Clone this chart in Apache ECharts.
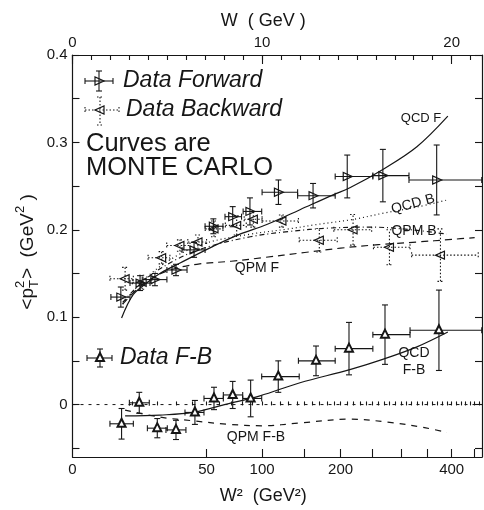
<!DOCTYPE html>
<html>
<head>
<meta charset="utf-8">
<script src="https://cdn.jsdelivr.net/npm/echarts@6/dist/echarts.min.js"></script>
<style>
  html, body { margin: 0; padding: 0; background: #fff; }
  #chart { width: 484px; height: 510px; }
</style>
</head>
<body>
<div id="chart"></div>
<script>
// values: x = W^2 (GeV^2), y = <pT^2> (GeV^2)
const fwdW2   = [6.5, 12.7, 18.9, 29.8, 41.1, 55.2, 71.4, 87.6, 118, 161, 210, 268, 369]
const fwdVal  = [0.123, 0.139, 0.143, 0.154, 0.177, 0.204, 0.215, 0.221, 0.243, 0.239, 0.261, 0.262, 0.257]
const fwdW2Lo = [4.1, 9.2, 13.8, 24.8, 33.4, 48.9, 64.7, 81, 100, 141, 192, 251, 315]
const fwdW2Hi = [9.2, 16.7, 24.8, 36.5, 48.9, 63, 79.5, 99.6, 141, 192, 251, 315, 466]
const fwdErr  = [0.0115, 0.0085, 0.007, 0.0065, 0.0085, 0.0085, 0.0115, 0.0155, 0.014, 0.014, 0.0245, 0.030, 0.040]

const bwdW2   = [7.7, 13.5, 22.1, 32.1, 43.8, 55.7, 75, 91, 122, 169.5, 219, 279.5, 376.7]
const bwdVal  = [0.144, 0.140, 0.168, 0.182, 0.186, 0.201, 0.205, 0.212, 0.210, 0.188, 0.200, 0.180, 0.171]
const bwdW2Lo = [3.9, 10, 15.9, 24.7, 37, 49, 65, 82, 100, 143, 190, 252, 320]
const bwdW2Hi = [10.3, 17.5, 26.4, 38.4, 50, 63, 84, 100, 142, 195, 249, 317, 458]
const bwdErr  = [0.013, 0.008, 0.007, 0.0065, 0.008, 0.009, 0.011, 0.009, 0.007, 0.0135, 0.0175, 0.020, 0.030]

const fbW2    = [6.7, 12.4, 20, 29.8, 41.7, 55.7, 71.4, 88.3, 117.8, 165, 212.7, 271.7, 373.6]
const fbVal   = [-0.022, 0.002, -0.027, -0.029, -0.009, 0.007, 0.011, 0.007, 0.032, 0.050, 0.064, 0.080, 0.085]
const fbW2Lo  = [3.9, 9.0, 15.6, 24.3, 35.2, 48.1, 63.3, 80.6, 99.6, 142, 192, 251, 317]
const fbW2Hi  = [10.3, 16.4, 25, 35.8, 48.1, 63.3, 80.6, 99.6, 143, 192, 251, 317, 466]
const fbErr   = [0.0175, 0.012, 0.011, 0.011, 0.0137, 0.0128, 0.0155, 0.021, 0.018, 0.017, 0.030, 0.034, 0.046]

// Monte Carlo curves
const qcdFW2  = [6.7, 10.3, 15.3, 22, 32.2, 55, 78, 105, 144, 189, 214, 268, 330, 392]
const qcdFVal = [0.099, 0.126, 0.139, 0.151, 0.162, 0.181, 0.195, 0.206, 0.223, 0.240, 0.248, 0.269, 0.295, 0.330]
const qcdBW2  = [7, 15, 30, 50, 88, 130, 166, 220, 269, 330, 390]
const qcdBVal = [0.115, 0.145, 0.170, 0.185, 0.195, 0.201, 0.206, 0.212, 0.219, 0.226, 0.234]
const qpmBW2  = [7, 15, 30, 50, 88, 130, 185, 250, 320, 390]
const qpmBVal = [0.117, 0.144, 0.166, 0.180, 0.192, 0.198, 0.202, 0.203, 0.200, 0.195]
const qpmFW2  = [7, 12, 20, 30, 45, 70, 100, 150, 200, 260, 330, 400, 450]
const qpmFVal = [0.115, 0.133, 0.148, 0.156, 0.161, 0.164, 0.168, 0.174, 0.179, 0.183, 0.186, 0.189, 0.191]
const qcdFBW2  = [7.7, 21.3, 40.6, 66.1, 97.8, 144, 214, 269, 330, 392]
const qcdFBVal = [-0.013, -0.012, -0.009, 0.0005, 0.010, 0.025, 0.040, 0.052, 0.066, 0.083]
const qpmFBW2  = [7.7, 21.3, 40.6, 66.1, 101, 144, 214, 280, 342, 390]
const qpmFBVal = [-0.0064, -0.0144, -0.0186, -0.0224, -0.0243, -0.021, -0.0167, -0.0204, -0.0261, -0.0318]

// axis ticks and labels
const w2Labels = [0, 50, 100, 200, 400]
const w2Major  = [50, 100, 150, 200, 250, 300, 350, 400, 450]
const w2Minor  = Array.from({ length: 46 }, (_, i) => (i + 1) * 10)
const wLabels  = [0, 10, 20]
const yLabels  = [0, 0.1, 0.2, 0.3, 0.4]
const yTicks   = [-0.05, 0, 0.05, 0.1, 0.15, 0.2, 0.25, 0.3, 0.35, 0.4]

const W_MAX = 21.6
const Y_MIN = -0.06
const INK = '#161616'
const FONT = '"Liberation Sans", Arial, sans-serif'

const chart = echarts.init(document.getElementById('chart'))

function crossMark(cx, cy, x1, x2, y1, y2, dir, dashed) {
  const bar = { stroke: INK, lineWidth: 1.1, lineDash: dashed ? [1.5, 2] : null }
  const line = (a, b, c, d) => ({ type: 'line', shape: { x1: a, y1: b, x2: c, y2: d }, style: bar })
  const cap = 3
  const s = 4
  const tri = {
    right: [[cx - s, cy - s], [cx - s, cy + s], [cx + s + 1, cy]],
    left: [[cx + s, cy - s], [cx + s, cy + s], [cx - s - 1, cy]],
    up: [[cx, cy - s - 1], [cx - s, cy + s - 1], [cx + s, cy + s - 1]],
  }[dir]
  return [
    line(x1, cy, x2, cy), line(cx, y1, cx, y2),
    line(x1, cy - cap, x1, cy + cap), line(x2, cy - cap, x2, cy + cap),
    line(cx - cap, y1, cx + cap, y1), line(cx - cap, y2, cx + cap, y2),
    { type: 'polygon', shape: { points: tri },
      style: { fill: dir === 'up' ? '#fff' : 'none', stroke: INK, lineWidth: dir === 'up' ? 2 : 1.2 } },
  ]
}

const toRows = (w2, val, lo, hi, err) => w2.map((v, i) =>
  [Math.sqrt(v), val[i], Math.sqrt(lo[i]), Math.sqrt(hi[i]), val[i] - err[i], val[i] + err[i]])

function barSeries(name, rows, dir, dashed) {
  return {
    name, type: 'custom', xAxisIndex: 0, yAxisIndex: 0, clip: true, z: 3,
    encode: { x: [0, 2, 3], y: [1, 4, 5] },
    data: rows,
    renderItem: (params, api) => {
      const p = api.coord([api.value(0), api.value(1)])
      const x1 = api.coord([api.value(2), api.value(1)])[0]
      const x2 = api.coord([api.value(3), api.value(1)])[0]
      const y1 = api.coord([api.value(0), api.value(4)])[1]
      const y2 = api.coord([api.value(0), api.value(5)])[1]
      return { type: 'group', children: crossMark(p[0], p[1], x1, x2, y1, y2, dir, dashed) }
    },
  }
}

const curve = (name, w2, val, dash) => ({
  name, type: 'line', xAxisIndex: 0, yAxisIndex: 0,
  data: w2.map((v, i) => [Math.sqrt(v), val[i]]),
  smooth: 0.35, showSymbol: false, symbol: 'none', silent: true, z: 2,
  lineStyle: { color: INK, width: 1.2, type: dash },
})

// y axis title: <p^2_T> (GeV^2), pieces laid out along the rotated baseline
const ctx = document.createElement('canvas').getContext('2d')
function textW(str, size) { ctx.font = size + 'px ' + FONT; return ctx.measureText(str).width }

function txt(text, x, y, size, extra) {
  return {
    type: 'text', x, y, z: 10,
    style: Object.assign({
      text, fill: INK, fontSize: size, fontFamily: FONT,
      align: 'center', verticalAlign: 'middle', textAlign: 'center', textVerticalAlign: 'middle',
    }, extra || {}),
  }
}

function yTitle() {
  const big = 19, small = 13
  const parts = [
    { t: '<p', s: big, dy: 0 },
    { stack: ['2', 'T'], s: small },
    { t: '>', s: big, dy: 0 },
    { t: '  (GeV', s: big, dy: 0 },
    { t: '2', s: small, dy: -8 },
    { t: ' )', s: big, dy: 0 },
  ]
  const widths = parts.map(p => p.stack ? Math.max(...p.stack.map(c => textW(c, p.s))) + 1 : textW(p.t, p.s))
  const total = widths.reduce((a, b) => a + b, 0)
  let x = -total / 2
  const children = []
  const left = { align: 'left', textAlign: 'left' }
  parts.forEach((p, i) => {
    if (p.stack) {
      children.push(txt(p.stack[0], x, -8, p.s, left))
      children.push(txt(p.stack[1], x, 6, p.s, left))
    } else {
      children.push(txt(p.t, x, p.dy, p.s, left))
    }
    x += widths[i]
  })
  return { type: 'group', x: 28, y: 252, rotation: Math.PI / 2, children }
}

const frame = { show: true, onZero: false, lineStyle: { color: INK, width: 1.2 } }
const tickStyle = { color: INK, width: 1.1 }
const labelFont = { color: INK, fontSize: 15, fontFamily: FONT }
const nameFont = { color: INK, fontSize: 18, fontFamily: FONT }

chart.setOption({
  animation: false,
  backgroundColor: '#fff',
  grid: [
    { left: 72.5, right: 2, top: 55, bottom: 52 },
    { left: 72.5, right: 2, top: 55, bottom: 52 },
  ],
  xAxis: [
    {
      gridIndex: 0, type: 'value', position: 'bottom', min: 0, max: W_MAX,
      axisLine: frame, splitLine: { show: false },
      axisTick: { inside: true, length: 8, customValues: w2Major.map(Math.sqrt), lineStyle: tickStyle },
      axisLabel: { ...labelFont, margin: 5, customValues: w2Labels.map(Math.sqrt),
        formatter: v => String(Math.round(v * v)) },
      name: 'W²  (GeV²)', nameLocation: 'middle', nameGap: 30, nameTextStyle: { ...nameFont, padding: [0, 28, 0, 0] },
    },
    {
      gridIndex: 0, type: 'value', position: 'top', min: 0, max: W_MAX, interval: 1,
      axisLine: frame, splitLine: { show: false },
      axisTick: { inside: true, length: 5, lineStyle: tickStyle },
      axisLabel: { ...labelFont, margin: 5, customValues: wLabels, formatter: v => String(v) },
      name: 'W  ( GeV )', nameLocation: 'middle', nameGap: 22, nameTextStyle: { ...nameFont, padding: [0, 28, 0, 0] },
    },
    {
      gridIndex: 1, type: 'value', position: 'bottom', min: 0, max: W_MAX,
      axisLine: { show: false }, splitLine: { show: false }, axisLabel: { show: false },
      axisTick: { inside: true, length: 4, customValues: w2Minor.map(Math.sqrt), lineStyle: tickStyle },
    },
    {
      gridIndex: 1, type: 'value', position: 'top', min: 0, max: W_MAX,
      axisLine: { show: false }, splitLine: { show: false }, axisLabel: { show: false },
      axisTick: { inside: true, length: 9, customValues: wLabels, lineStyle: tickStyle },
    },
  ],
  yAxis: [
    {
      gridIndex: 0, type: 'value', position: 'left', min: Y_MIN, max: 0.4,
      axisLine: frame, splitLine: { show: false },
      axisTick: { inside: true, length: 7, customValues: yTicks, lineStyle: tickStyle },
      axisLabel: { ...labelFont, margin: 5, customValues: yLabels,
        formatter: v => (v === 0 ? '0' : v.toFixed(1)) },
    },
    {
      gridIndex: 0, type: 'value', position: 'right', min: Y_MIN, max: 0.4,
      axisLine: frame, splitLine: { show: false }, axisLabel: { show: false },
      axisTick: { inside: true, length: 7, customValues: yTicks, lineStyle: tickStyle },
    },
    { gridIndex: 1, type: 'value', min: Y_MIN, max: 0.4, show: false },
  ],
  series: [
    {
      name: 'zero', type: 'line', xAxisIndex: 0, yAxisIndex: 0, silent: true, showSymbol: false, symbol: 'none',
      data: [[0, 0], [W_MAX, 0]], lineStyle: { color: INK, width: 1, type: [3, 5] }, z: 1,
    },
    curve('QCD F', qcdFW2, qcdFVal, 'solid'),
    curve('QCD B', qcdBW2, qcdBVal, [1, 3]),
    curve('QPM B', qpmBW2, qpmBVal, [5, 3, 1, 3]),
    curve('QPM F', qpmFW2, qpmFVal, [7, 5]),
    curve('QCD F-B', qcdFBW2, qcdFBVal, 'solid'),
    curve('QPM F-B', qpmFBW2, qpmFBVal, [6, 6]),
    barSeries('Data Forward', toRows(fwdW2, fwdVal, fwdW2Lo, fwdW2Hi, fwdErr), 'right', false),
    barSeries('Data Backward', toRows(bwdW2, bwdVal, bwdW2Lo, bwdW2Hi, bwdErr), 'left', true),
    barSeries('Data F-B', toRows(fbW2, fbVal, fbW2Lo, fbW2Hi, fbErr), 'up', false),
  ],
  graphic: [
    yTitle(),
    { type: 'group', z: 10, children: [
      ...crossMark(99, 81, 85, 113, 71, 91, 'right', false),
      ...crossMark(100, 110, 85, 119, 97, 125, 'left', true),
      ...crossMark(100, 358, 87, 112, 349, 367, 'up', false),
    ] },
    txt('Data Forward', 123, 81, 23, { align: 'left', textAlign: 'left', fontStyle: 'italic' }),
    txt('Data Backward', 126, 110, 23, { align: 'left', textAlign: 'left', fontStyle: 'italic' }),
    txt('Curves are', 86, 144, 25.5, { align: 'left', textAlign: 'left' }),
    txt('MONTE CARLO', 86, 168, 25.5, { align: 'left', textAlign: 'left' }),
    txt('Data F-B', 120, 358, 23, { align: 'left', textAlign: 'left', fontStyle: 'italic' }),
    txt('QCD F', 421, 118, 13),
    { ...txt('QCD B', 413, 204, 14), rotation: 0.26 },
    txt('QPM B', 414, 231, 14),
    txt('QPM F', 257, 268, 14),
    txt('QCD', 414, 353, 14),
    txt('F-B', 414, 370, 14),
    txt('QPM F-B', 256, 437, 14),
  ],
})
</script>
</body>
</html>
